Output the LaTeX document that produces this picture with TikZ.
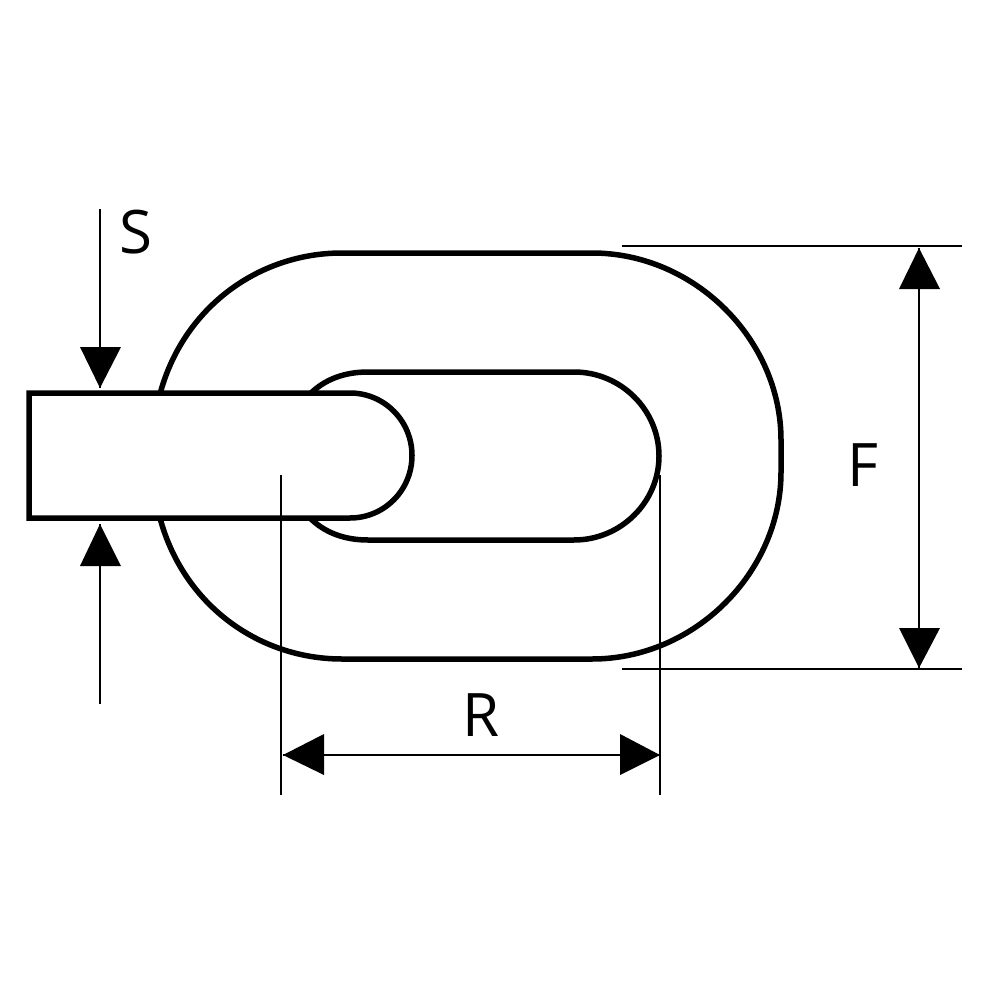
\documentclass[tikz,border=0pt]{standalone}
\usepackage{fontspec}
\setmainfont{Open Sans}
\begin{document}
\begin{tikzpicture}[x=1pt,y=-1pt,
 outl/.style={line width=5.5pt,line join=miter},
 dim/.style={line width=1.4pt},
 tip/.style={fill=black,draw=none},
 lab/.style={font=\fontsize{60}{60}\selectfont,inner sep=0pt,text=black,anchor=base}]
\useasboundingbox (0,0) rectangle (1000,1000);
\fill[white] (0,0) rectangle (1000,1000);
% outer link
\draw[outl] (160,394) .. controls (183,308) and (258,253) .. (342,253) -- (592,253)
  .. controls (695,253) and (781,340) .. (781,440) -- (781,472)
  .. controls (781,572) and (695,659) .. (592,659) -- (342,659)
  .. controls (258,659) and (183,604) .. (160,518);
% inner hole
\draw[outl] (310,394) .. controls (325,379) and (345,372) .. (368,372) -- (574,372)
  .. controls (621,372) and (659,410) .. (659,456)
  .. controls (659,502) and (621,540) .. (574,540) -- (368,540)
  .. controls (345,540) and (325,533) .. (310,518);
% bar
\draw[outl,fill=white] (350,393) -- (29,393) -- (29,518) -- (350,518)
  .. controls (384.5,518) and (412,490) .. (412,455.5)
  .. controls (412,421) and (384.5,393) .. (350,393) -- cycle;
% dim lines
\coordinate (s1) at (100,209); \coordinate (s1t) at (100,388);
\coordinate (s2) at (100,704); \coordinate (s2t) at (100,524);
\draw[dim] (s1) -- (s1t);
\draw[dim] (s2) -- (s2t);
\fill[tip] (100,388) -- (80,347) -- (121,347) -- cycle;
\fill[tip] (100,524) -- (80,566) -- (121,566) -- cycle;
\coordinate (f1a) at (622,246); \coordinate (f1b) at (962,246);
\coordinate (f2a) at (622,669); \coordinate (f2b) at (962,669);
\draw[dim] (f1a) -- (f1b);
\draw[dim] (f2a) -- (f2b);
\draw[dim] (919,248) -- (919,668);
\fill[tip] (919,248) -- (899,289) -- (940,289) -- cycle;
\fill[tip] (919,668) -- (899,628) -- (940,628) -- cycle;
\coordinate (r1a) at (281,475); \coordinate (r1b) at (281,795);
\coordinate (r2a) at (660,475); \coordinate (r2b) at (660,795);
\draw[dim] (r1a) -- (r1b);
\draw[dim] (r2a) -- (r2b);
\draw[dim] (283,755) -- (660,755);
\fill[tip] (283,755) -- (324,734) -- (324,775) -- cycle;
\fill[tip] (660,755) -- (620,734) -- (620,775) -- cycle;
\node[lab] (S) at (136,253) {S};
\node[lab] (F) at (863,486) {F};
\node[lab] (R) at (481,736) {R};
\end{tikzpicture}
\end{document}
